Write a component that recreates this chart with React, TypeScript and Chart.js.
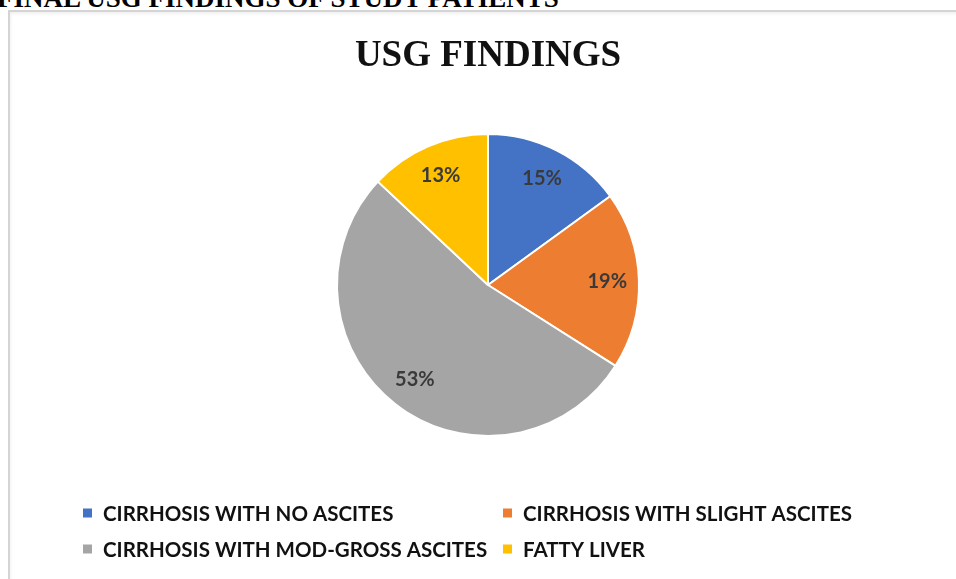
import React, { useEffect, useRef } from "react";
import { Chart, registerables } from "chart.js";

Chart.register(...registerables);

const categories = [
  "CIRRHOSIS WITH NO ASCITES",
  "CIRRHOSIS WITH SLIGHT ASCITES",
  "CIRRHOSIS WITH MOD-GROSS ASCITES",
  "FATTY LIVER",
];
const percentages = [15, 19, 53, 13];
const sliceColors = ["#4472C4", "#ED7D31", "#A5A5A5", "#FFC000"];
const chartTitle = "USG FINDINGS";
const pageHeading = "FINAL USG FINDINGS OF STUDY PATIENTS";

const labelPlugin = {
  id: "sliceLabels",
  afterDatasetsDraw(chart: any) {
    const ctx = chart.ctx;
    const meta = chart.getDatasetMeta(0);
    const values = chart.data.datasets[0].data;
    ctx.save();
    ctx.font = "bold 20px Lato";
    ctx.fillStyle = "#3a3a3a";
    ctx.textAlign = "center";
    ctx.textBaseline = "middle";
    meta.data.forEach((arc: any, i: number) => {
      const p = arc.getProps(["x", "y", "startAngle", "endAngle", "outerRadius"], true);
      const mid = (p.startAngle + p.endAngle) / 2;
      const r = p.outerRadius * 0.79;
      ctx.fillText(values[i] + "%", p.x + Math.cos(mid) * r, p.y + Math.sin(mid) * r);
    });
    ctx.restore();
  },
};

const legendPlugin = {
  id: "gridLegend",
  afterDraw(chart: any) {
    const ctx = chart.ctx;
    const labels = chart.data.labels;
    const colors = chart.data.datasets[0].backgroundColor;
    const colX = [73, 493];
    const rowY = [501, 537];
    ctx.save();
    ctx.font = "bold 20.5px Lato";
    ctx.textBaseline = "middle";
    ctx.textAlign = "left";
    labels.forEach((lab: string, i: number) => {
      const cx = colX[i % 2];
      const cy = rowY[Math.floor(i / 2)];
      ctx.fillStyle = colors[i];
      ctx.fillRect(cx, cy - 4.5, 9, 9);
      ctx.fillStyle = "#111111";
      ctx.fillText(lab, cx + 20, cy + 1);
    });
    ctx.restore();
  },
};

export default function App() {
  const ref = useRef<HTMLCanvasElement | null>(null);
  useEffect(() => {
    if (!ref.current) return;
    const chart = new Chart(ref.current, {
      type: "pie",
      data: {
        labels: categories,
        datasets: [
          {
            data: percentages,
            backgroundColor: sliceColors,
            borderColor: "#ffffff",
            borderWidth: 2,
            hoverOffset: 0,
          },
        ],
      },
      options: {
        animation: false,
        responsive: false,
        maintainAspectRatio: false,
        layout: { padding: { left: 10, right: 0, top: 0, bottom: 142 } },
        plugins: {
          legend: { display: false },
          tooltip: { enabled: false },
          title: {
            display: true,
            text: chartTitle,
            color: "#111111",
            font: { family: "Liberation Serif", weight: "bold", size: 37, lineHeight: 1.2 },
            padding: { top: 22, bottom: 54.6 },
          },
        },
      },
      plugins: [labelPlugin, legendPlugin],
    });
    return () => chart.destroy();
  }, []);

  return (
    <div
      style={{
        position: "fixed",
        left: 0,
        top: 0,
        width: 956,
        height: 579,
        overflow: "hidden",
        background: "#ffffff",
      }}
    >
      <div
        style={{
          position: "absolute",
          left: -3,
          top: -15,
          fontFamily: "Liberation Serif",
          fontWeight: "bold",
          fontSize: 27,
          lineHeight: "27px",
          whiteSpace: "nowrap",
          color: "#000",
        }}
      >
        {pageHeading}
      </div>
      <div
        style={{
          position: "absolute",
          left: 8,
          top: 10,
          width: 960,
          height: 580,
          borderTop: "2px solid #d4d4d4",
          borderLeft: "2px solid #d4d4d4",
          boxShadow: "inset 1px 2px 3px rgba(0,0,0,0.06)",
          background: "#ffffff",
        }}
      />
      <canvas
        ref={ref}
        width={946}
        height={567}
        style={{ position: "absolute", left: 10, top: 12, width: 946, height: 567 }}
      />
    </div>
  );
}
